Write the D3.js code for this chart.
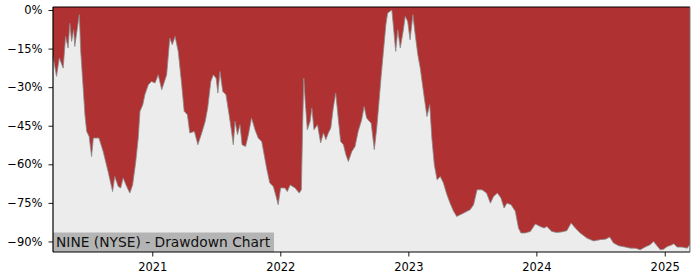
<!DOCTYPE html>
<html>
<head>
<meta charset="utf-8">
<script src="https://d3js.org/d3.v7.min.js"></script>
<style>
  body { margin: 0; background: #fff; }
  svg text { font-family: "DejaVu Sans", sans-serif; }
</style>
</head>
<body>
<div id="chart"></div>
<script>
// drawdown series (percent below running peak)
var dates = [
  "2020-03-24","2020-04-03","2020-04-11","2020-04-22","2020-04-29","2020-05-06","2020-05-11","2020-05-16",
  "2020-05-22","2020-05-25","2020-06-07","2020-06-11","2020-06-18","2020-06-23","2020-06-28","2020-07-05",
  "2020-07-12","2020-07-17","2020-08-02","2020-08-14","2020-08-28","2020-09-10","2020-09-16","2020-09-26",
  "2020-10-03","2020-10-10","2020-10-20","2020-10-29","2020-11-06","2020-11-15","2020-11-22","2020-11-27",
  "2020-12-05","2020-12-11","2020-12-21","2020-12-30","2021-01-09","2021-01-18","2021-01-28","2021-02-11",
  "2021-02-20","2021-02-27","2021-03-07","2021-03-16","2021-03-25","2021-04-02","2021-04-11","2021-04-18",
  "2021-05-01","2021-05-11","2021-05-22","2021-06-01","2021-06-08","2021-06-17","2021-06-24","2021-07-02",
  "2021-07-07","2021-07-13","2021-07-21","2021-07-30","2021-08-08","2021-08-15","2021-08-20","2021-08-25",
  "2021-09-01","2021-09-08","2021-09-14","2021-09-24","2021-10-02","2021-10-11","2021-10-21","2021-10-30",
  "2021-11-09","2021-11-16","2021-11-23","2021-12-02","2021-12-12","2021-12-20","2021-12-26","2022-01-02",
  "2022-01-14","2022-01-21","2022-01-29","2022-02-12","2022-02-24","2022-03-02","2022-03-06","2022-03-09",
  "2022-03-13","2022-03-19","2022-03-27","2022-04-01","2022-04-07","2022-04-17","2022-04-26","2022-05-04",
  "2022-05-11","2022-05-18","2022-05-25","2022-06-01","2022-06-08","2022-06-15","2022-06-22","2022-06-30",
  "2022-07-07","2022-07-14","2022-07-24","2022-08-02","2022-08-11","2022-08-21","2022-08-28","2022-09-04",
  "2022-09-12","2022-09-17","2022-09-26","2022-10-03","2022-10-08","2022-10-15","2022-10-22","2022-10-29",
  "2022-11-03","2022-11-15","2022-11-19","2022-11-26","2022-12-02","2022-12-09","2022-12-18","2022-12-23",
  "2022-12-30","2023-01-06","2023-01-14","2023-01-20","2023-01-28","2023-02-04","2023-02-13","2023-02-23",
  "2023-03-03","2023-03-09","2023-03-16","2023-03-24","2023-04-02","2023-04-11","2023-04-21","2023-04-30",
  "2023-05-10","2023-05-19","2023-05-29","2023-06-07","2023-06-17","2023-06-26","2023-07-06","2023-07-16",
  "2023-07-30","2023-08-12","2023-08-23","2023-09-01","2023-09-12","2023-09-22","2023-10-01","2023-10-09",
  "2023-10-21","2023-11-02","2023-11-11","2023-11-18","2023-11-30","2023-12-15","2023-12-29","2024-01-12",
  "2024-01-23","2024-01-31","2024-02-14","2024-02-28","2024-03-13","2024-03-28","2024-04-09","2024-04-21",
  "2024-05-05","2024-05-24","2024-06-12","2024-07-01","2024-07-16","2024-07-28","2024-08-08","2024-08-23",
  "2024-09-11","2024-09-25","2024-10-09","2024-10-23","2024-11-06","2024-11-20","2024-11-30","2024-12-10",
  "2024-12-19","2024-12-29","2025-01-08","2025-01-22","2025-01-27","2025-02-05","2025-02-19","2025-03-06",
  "2025-03-13"
];
var drawdown = [
  -18, -25.8, -18.7, -22.6, -10.3, -14.8, -5.2, -12.2,
  -7.7, -14.2, -1.8, -16, -30.3, -40.7, -47.2, -49.2,
  -57, -49.8, -49.8, -55, -62.8, -70.6, -64.7, -68.6,
  -69.2, -65.3, -68.6, -71.2, -68, -58.9, -49.8, -39.4,
  -36.8, -32.9, -29, -27.8, -28.4, -25.2, -31, -25.2,
  -10.9, -13.5, -10.3, -16.1, -27.8, -39.4, -40.7, -47.8,
  -47.2, -52.4, -47.8, -43.3, -38.1, -27.8, -25.2, -26.5,
  -32.3, -23.9, -31.7, -32.9, -40.7, -47.2, -52.4, -43.3,
  -48.5, -44.6, -52.4, -53.1, -48.5, -42, -46.6, -49.8,
  -51.1, -56.3, -61.5, -67.3, -68.6, -72.5, -75.7, -69.2,
  -69.2, -70.6, -68, -69.2, -71.2, -69.9, -43.3, -26.5,
  -35.5, -46.6, -43.3, -38.1, -46.6, -44.6, -51.7, -47.8,
  -50.4, -47.8, -45.9, -38.1, -32.3, -42, -51.1, -52.4,
  -56.3, -58.9, -55, -53.1, -47.2, -42.7, -37.5, -42,
  -43.3, -44, -54.3, -45.9, -38.1, -26.5, -16.1, -5.7,
  -1.2, 0, -5.7, -16.1, -7.7, -14.8, -7.7, -2.5,
  -4.4, -11.6, -1.8, -8.9, -17.4, -22.6, -31.7, -41.4,
  -36.8, -49.8, -60.2, -66, -64.7, -67.3, -71.8, -75.1,
  -78.3, -80.3, -79.6, -79, -78.3, -77.7, -75.7, -69.9,
  -69.9, -71.2, -75.1, -72.5, -71.2, -73.1, -77, -75.1,
  -75.7, -78.3, -84.8, -86.7, -86.7, -86.1, -83.2, -84.2,
  -84.8, -84.2, -86.1, -86.5, -86.3, -85.8, -82.8, -84.8,
  -86.7, -88.7, -89.8, -89.3, -89.1, -88.3, -90.6, -91.7,
  -92.2, -92.6, -92.6, -93.2, -92.2, -91.3, -90, -91.7,
  -93.2, -93, -92, -91.3, -90.9, -92.2, -92.2, -92.6,
  -91.3
];
var yTicks = [0, -15, -30, -45, -60, -75, -90];
var xTickYears = [2021, 2022, 2023, 2024, 2025];
var title = "NINE (NYSE) - Drawdown Chart";

var W = 700, H = 280;
var margin = {top: 7, right: 10, bottom: 28, left: 53};
var width = 690 - margin.left, height = 252 - margin.top;

var parse = d3.timeParse("%Y-%m-%d");
var data = dates.map(function(d, i) { return {date: parse(d), v: drawdown[i]}; });

var svg = d3.select("#chart").append("svg")
  .attr("width", W).attr("height", H);
var g = svg.append("g")
  .attr("transform", "translate(" + margin.left + "," + margin.top + ")");

var x = d3.scaleTime()
  .domain([parse("2020-03-24"), parse("2025-03-14")])
  .range([0, width]);
var y = d3.scaleLinear()
  .domain([-94.1, 1.17])
  .range([height, 0]);

// red background = drawdown region, grey area beneath the curve
g.append("rect")
  .attr("width", width).attr("height", height)
  .attr("fill", "#b03131");

g.append("path")
  .datum(data)
  .attr("fill", "#ececec")
  .attr("d", d3.area()
    .x(function(d) { return x(d.date); })
    .y0(height)
    .y1(function(d) { return y(d.v); }));

g.append("path")
  .datum(data)
  .attr("fill", "none")
  .attr("stroke", "#8a8a8a")
  .attr("stroke-width", 0.8)
  .attr("d", d3.line()
    .x(function(d) { return x(d.date); })
    .y(function(d) { return y(d.v); }));

// title label box
var label = g.append("g");
label.append("rect")
  .attr("x", 0).attr("y", height - 19.5)
  .attr("width", 221).attr("height", 19.5)
  .attr("fill", "#b4b4b4");
label.append("text")
  .attr("x", 3).attr("y", height - 5)
  .attr("font-size", "13.8px")
  .attr("fill", "#111")
  .text(title);

// axes
var yAxis = d3.axisLeft(y)
  .tickValues(yTicks)
  .tickSize(4.5)
  .tickPadding(6)
  .tickFormat(function(d) { return (d < 0 ? "\u2212" : "") + Math.abs(d) + "%"; });
var xAxis = d3.axisBottom(x)
  .tickValues(xTickYears.map(function(yr) { return new Date(yr, 0, 1); }))
  .tickSize(4.5)
  .tickPadding(6)
  .tickFormat(d3.timeFormat("%Y"));

var ya = g.append("g").call(yAxis);
var xa = g.append("g").attr("transform", "translate(0," + height + ")").call(xAxis);
[ya, xa].forEach(function(a) {
  a.select(".domain").remove();
  a.selectAll("text").attr("font-size", "11.5px").attr("fill", "#000");
  a.selectAll("line").attr("stroke", "#000").attr("stroke-width", 0.9);
});

// frame
g.append("line").attr("x1", 0).attr("x2", width).attr("y1", 0).attr("y2", 0)
  .attr("stroke", "#000").attr("stroke-width", 1.2);
g.append("line").attr("x1", 0).attr("x2", width).attr("y1", height).attr("y2", height)
  .attr("stroke", "#000").attr("stroke-width", 1.2);
g.append("line").attr("x1", 0).attr("x2", 0).attr("y1", 0).attr("y2", height)
  .attr("stroke", "#000").attr("stroke-width", 1.2);
g.append("line").attr("x1", width).attr("x2", width).attr("y1", 0).attr("y2", height)
  .attr("stroke", "#777").attr("stroke-width", 1);
</script>
</body>
</html>
